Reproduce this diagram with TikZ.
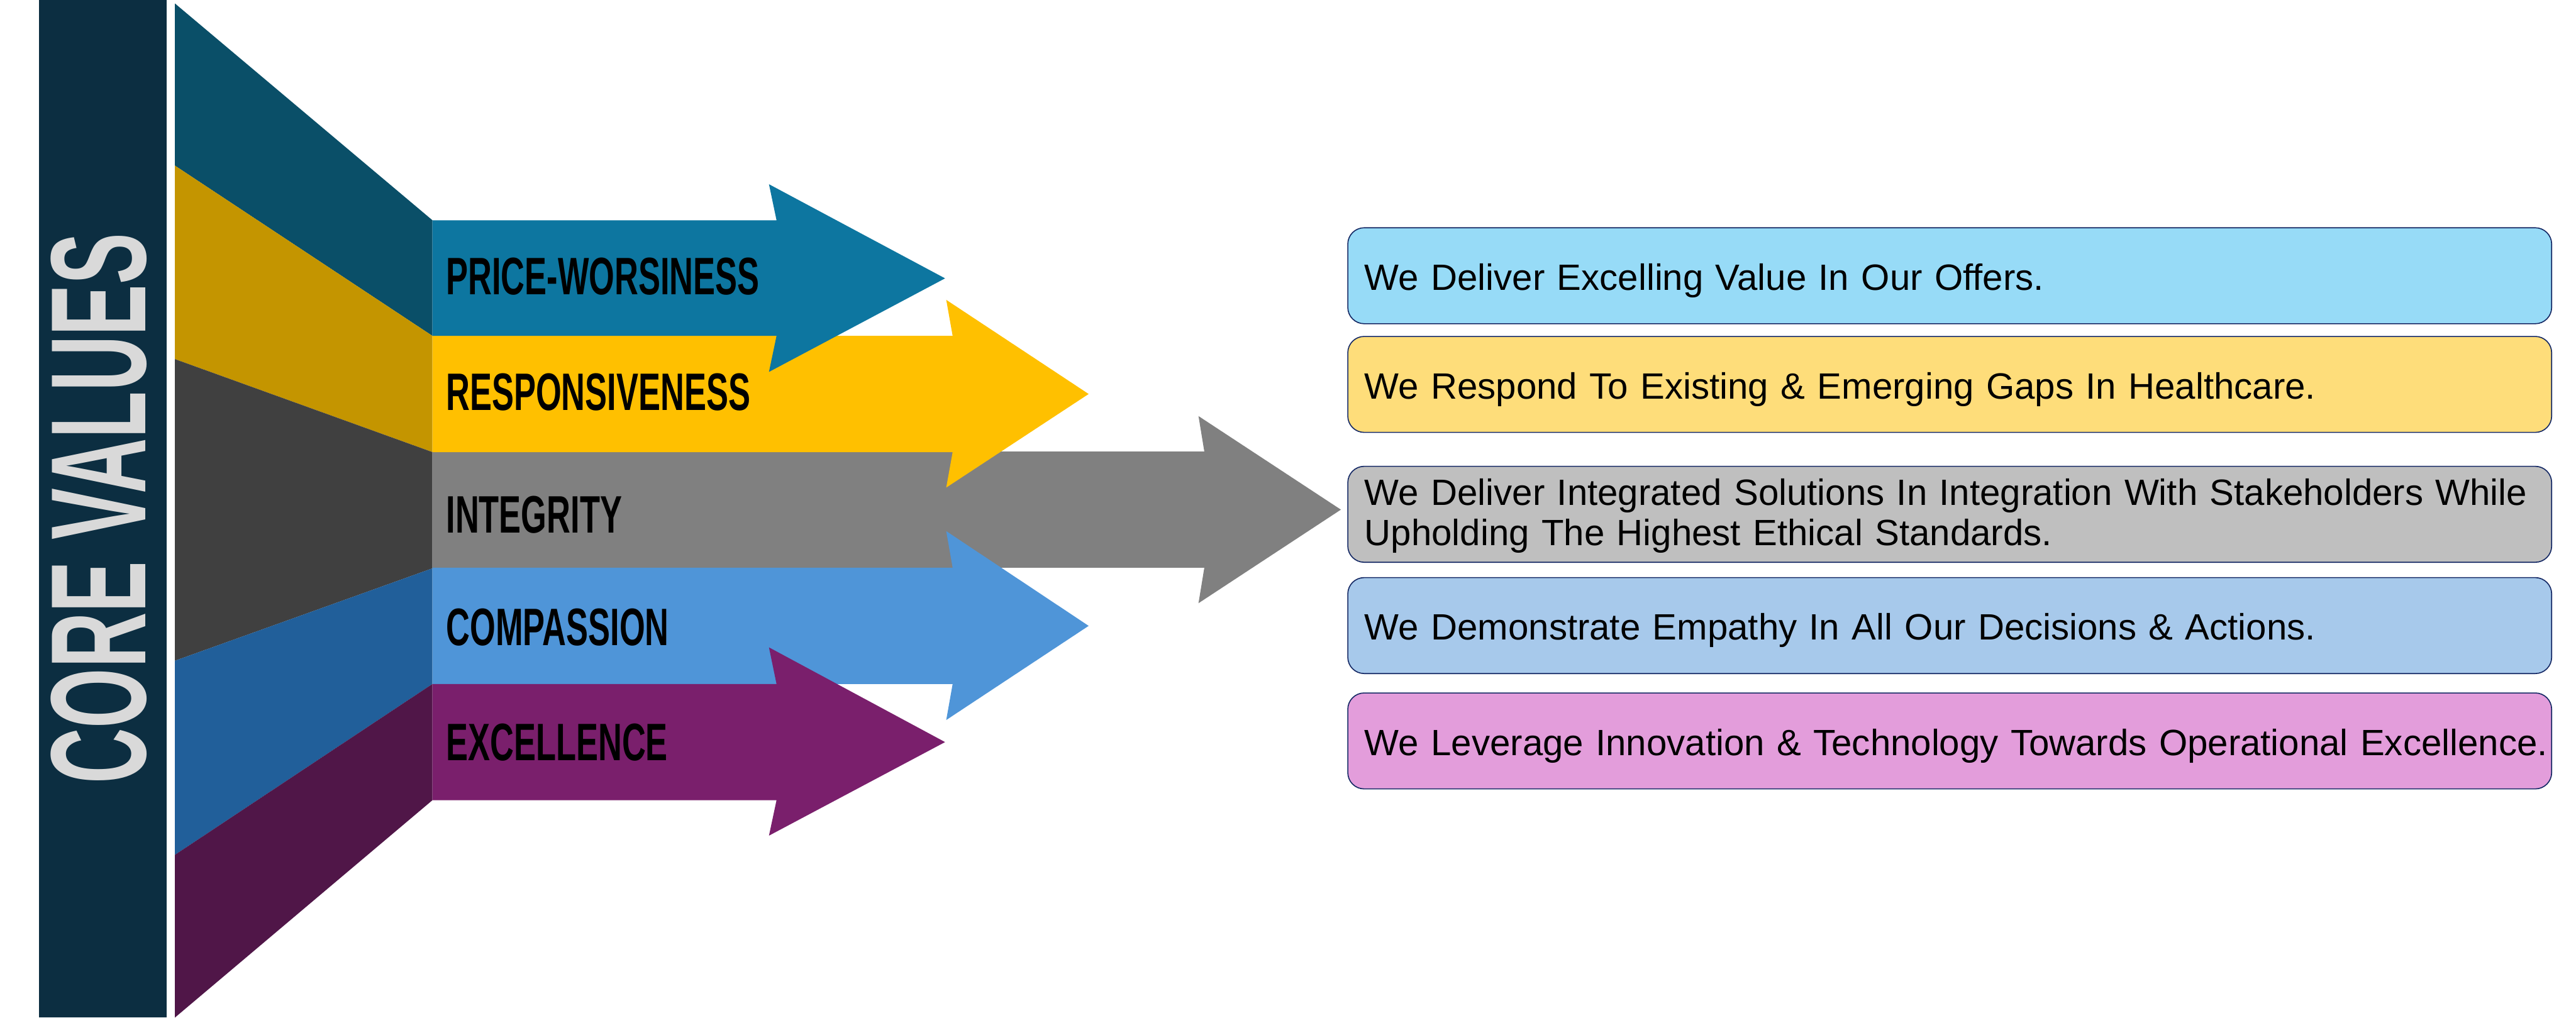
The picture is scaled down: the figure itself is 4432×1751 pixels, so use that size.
\documentclass[tikz,border=0pt]{standalone}
\usepackage{fontspec}
\setmainfont{Liberation Sans}
\newfontfamily\tagfont{Liberation Sans}[FakeStretch=0.625]
\newfontfamily\sidefont{Liberation Sans}[FakeStretch=0.568]
\definecolor{barnavy}{RGB}{12,46,65}
\definecolor{corelight}{RGB}{217,217,217}
\definecolor{funteal}{RGB}{10,79,104}
\definecolor{fungold}{RGB}{196,149,0}
\definecolor{fundark}{RGB}{64,64,64}
\definecolor{funblue}{RGB}{33,95,154}
\definecolor{funplum}{RGB}{80,22,72}
\definecolor{arrteal}{RGB}{13,118,160}
\definecolor{arrgold}{RGB}{255,192,0}
\definecolor{arrgray}{RGB}{128,128,128}
\definecolor{arrblue}{RGB}{79,149,216}
\definecolor{arrplum}{RGB}{122,31,108}
\definecolor{boxsky}{RGB}{151,219,247}
\definecolor{boxsand}{RGB}{254,221,122}
\definecolor{boxgray}{RGB}{191,191,191}
\definecolor{boxblue}{RGB}{167,201,235}
\definecolor{boxpink}{RGB}{227,157,219}
\definecolor{boxline}{RGB}{20,40,100}
\begin{document}
\begin{tikzpicture}[x=0.01cm,y=-0.01cm,
  valbox/.style={draw=boxline,line width=0.5pt,rounded corners=8pt,anchor=west,
    minimum height=1.65cm,text width=20.12cm,inner xsep=0.29cm,inner ysep=0pt,
    text height=1.07cm,text depth=0.58cm,align=left,
    font=\fontsize{17.9}{19.6}\selectfont},
  tag/.style={anchor=west,inner sep=0pt,font=\tagfont\bfseries\fontsize{25.8}{26}\selectfont}]
 \useasboundingbox (0,0) rectangle (4432,1751);
 \fill[barnavy] (67,0) rectangle (287,1751);
 \node[rotate=90,inner sep=0pt,text=corelight,font=\sidefont\bfseries\fontsize{66.4}{67}\selectfont] (core) at (170,875) {CORE VALUES};
 \fill[funteal] (301,6) -- (744,379) -- (744,578) -- (301,285) -- cycle;
 \fill[fungold] (301,285) -- (744,578) -- (744,778) -- (301,618) -- cycle;
 \fill[fundark] (301,618) -- (744,778) -- (744,978) -- (301,1137) -- cycle;
 \fill[funblue] (301,1137) -- (744,978) -- (744,1177) -- (301,1471) -- cycle;
 \fill[funplum] (301,1471) -- (744,1177) -- (744,1377) -- (301,1751) -- cycle;
 \fill[arrgray] (744,777) -- (2072,777) -- (2062,716) -- (2307,877) -- (2062,1038) -- (2072,977) -- (744,977) -- cycle;
 \fill[arrgold] (744,578) -- (1639,578) -- (1628,516) -- (1873,678) -- (1628,839) -- (1639,778) -- (744,778) -- cycle;
 \fill[arrblue] (744,977) -- (1639,977) -- (1628,914) -- (1873,1077) -- (1628,1239) -- (1639,1177) -- (744,1177) -- cycle;
 \fill[arrteal] (744,379) -- (1336,379) -- (1323,317) -- (1626,479) -- (1323,640) -- (1336,578) -- (744,578) -- cycle;
 \fill[arrplum] (744,1177) -- (1336,1177) -- (1323,1114) -- (1626,1277) -- (1323,1438) -- (1336,1377) -- (744,1377) -- cycle;
 \node[tag] (price) at (767,476) {PRICE-WORSINESS};
 \node[tag] (resp) at (767,675) {RESPONSIVENESS};
 \node[tag] (integ) at (767,886) {INTEGRITY};
 \node[tag] (comp) at (767,1079) {COMPASSION};
 \node[tag] (excel) at (767,1277) {EXCELLENCE};
 \node[valbox,fill=boxsky] (offers) at (2318,474.5) {We Deliver Excelling Value In Our Offers.};
 \node[valbox,fill=boxsand] (gaps) at (2318,661.5) {We Respond To Existing \& Emerging Gaps In Healthcare.};
 \node[valbox,fill=boxgray,text height=0.67cm,text depth=0.98cm] (ethics) at (2318,885) {\mbox{We Deliver Integrated Solutions In Integration With Stakeholders While}\\Upholding The Highest Ethical Standards.};
 \node[valbox,fill=boxblue] (empathy) at (2318,1076.5) {We Demonstrate Empathy In All Our Decisions \& Actions.};
 \node[valbox,fill=boxpink] (innov) at (2318,1275) {\mbox{We Leverage Innovation \& Technology Towards Operational Excellence.}};
\end{tikzpicture}
\end{document}
